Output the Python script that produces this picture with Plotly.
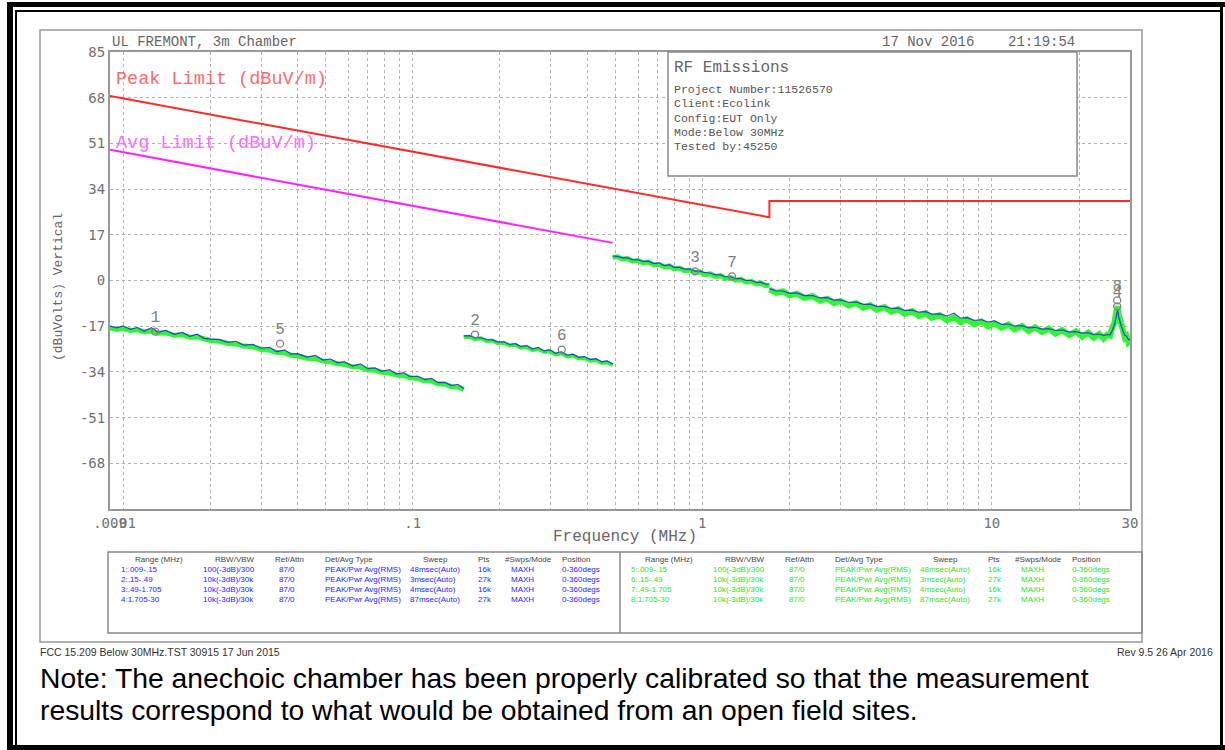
import math
import plotly.graph_objects as go

# ---------------- data ----------------
seg1_f = [0.009, 0.0095, 0.01, 0.0106, 0.0112, 0.0118, 0.0125, 0.0132, 0.014, 0.015,
          0.016, 0.017, 0.018, 0.019, 0.02, 0.0215, 0.023, 0.0245, 0.026, 0.028,
          0.03, 0.032, 0.034, 0.036, 0.038, 0.04, 0.043, 0.046, 0.049, 0.052,
          0.055, 0.058, 0.062, 0.066, 0.07, 0.074, 0.078, 0.083, 0.088, 0.093,
          0.098, 0.104, 0.11, 0.116, 0.122, 0.129, 0.136, 0.143, 0.15]
seg1_avg = [-17.6, -18.2, -17.9, -18.6, -18.3, -19.1, -18.8, -19.6, -19.4, -20.4,
            -20.2, -21.1, -21.0, -21.9, -22.3, -22.6, -23.4, -23.6, -24.4, -24.6,
            -25.7, -25.9, -26.8, -26.9, -27.8, -28.0, -28.9, -29.1, -30.0, -30.2,
            -31.0, -31.2, -32.1, -32.2, -33.2, -33.4, -34.1, -34.4, -35.2, -35.3,
            -36.2, -36.5, -37.3, -37.4, -38.4, -38.6, -39.5, -39.6, -40.5]
seg1_pk = [-17.0, -17.6, -16.9, -18.2, -17.5, -18.9, -17.6, -19.3, -18.6, -20.0,
           -19.3, -20.8, -20.0, -21.5, -21.8, -22.0, -23.0, -22.6, -24.0, -23.8,
           -25.2, -24.9, -26.5, -25.8, -27.4, -27.2, -28.5, -27.9, -29.6, -29.2,
           -30.6, -30.2, -31.8, -31.0, -32.8, -32.5, -33.8, -33.2, -34.8, -34.3,
           -35.8, -35.6, -36.9, -36.4, -38.0, -37.9, -39.1, -38.6, -40.3]

seg2_f = [0.15, 0.157, 0.164, 0.172, 0.18, 0.188, 0.197, 0.206, 0.216, 0.226,
          0.236, 0.247, 0.259, 0.271, 0.284, 0.297, 0.311, 0.326, 0.341, 0.357,
          0.374, 0.391, 0.41, 0.429, 0.449, 0.469, 0.49]
seg2_avg = [-21.1, -20.9, -21.8, -21.5, -22.6, -22.3, -23.4, -23.2, -24.2, -23.9,
            -25.0, -24.7, -25.9, -25.5, -26.6, -26.3, -27.5, -27.1, -28.2, -27.9,
            -29.0, -28.8, -29.8, -29.6, -30.7, -30.4, -31.5]
seg2_pk = [-20.6, -20.5, -21.3, -21.3, -22.0, -22.1, -22.9, -22.8, -23.8, -23.5,
           -24.6, -24.2, -25.5, -24.9, -26.2, -25.8, -27.1, -26.6, -27.8, -27.4,
           -28.6, -28.3, -29.4, -29.1, -30.3, -29.9, -31.1]

seg3_f = [0.49, 0.51, 0.53, 0.55, 0.575, 0.6, 0.625, 0.65, 0.68, 0.71,
          0.74, 0.77, 0.8, 0.835, 0.87, 0.905, 0.944, 0.98, 1.02, 1.065,
          1.11, 1.155, 1.2, 1.25, 1.305, 1.36, 1.415, 1.475, 1.535, 1.6,
          1.655, 1.705]
seg3_avg = [8.6, 8.8, 7.9, 8.2, 7.2, 7.5, 6.5, 6.9, 5.8, 6.0,
            5.0, 5.4, 4.3, 4.6, 3.6, 3.9, 2.9, 3.2, 2.2, 2.5,
            1.5, 1.8, 0.8, 1.1, 0.1, 0.4, -0.6, -0.3, -1.3, -1.0,
            -2.0, -1.7]
seg3_pk = [9.1, 9.0, 8.4, 8.4, 7.8, 7.7, 7.0, 7.2, 6.3, 6.5,
           5.5, 5.8, 4.9, 4.9, 4.2, 4.2, 3.5, 3.5, 2.9, 2.8,
           2.1, 2.1, 1.4, 1.4, 0.7, 0.7, 0.0, 0.0, -0.7, -0.7,
           -1.4, -1.4]

seg4_f = [1.705, 1.8, 1.9, 2.0, 2.12, 2.25, 2.4, 2.55, 2.7, 2.85,
          3.0, 3.2, 3.4, 3.6, 3.8, 4.0, 4.25, 4.5, 4.75, 5.0,
          5.3, 5.6, 5.9, 6.2, 6.6, 7.0, 7.4, 7.8, 8.2, 8.7,
          9.2, 9.7, 10.2, 10.8, 11.4, 12.0, 12.7, 13.4, 14.1, 14.9,
          15.7, 16.6, 17.5, 18.5, 19.5, 20.5, 21.5, 22.5, 23.5, 24.3,
          25.0, 25.6, 26.1, 26.5, 26.8, 27.0, 27.2, 27.4, 27.7, 28.0,
          28.4, 28.8, 29.2, 29.6, 30.0]
seg4_avg = [-3.4, -4.6, -4.0, -5.6, -4.9, -6.5, -5.8, -7.5, -6.8, -8.4,
            -7.6, -9.3, -8.4, -10.1, -9.2, -10.9, -9.9, -11.7, -10.7, -12.4,
            -11.4, -13.2, -12.1, -13.9, -12.9, -14.8, -13.7, -15.5, -14.4, -16.3,
            -15.2, -17.1, -15.9, -17.6, -16.4, -18.2, -16.9, -18.8, -17.4, -19.2,
            -17.9, -19.8, -18.4, -20.3, -18.9, -20.9, -19.4, -21.3, -19.9, -21.6,
            -20.2, -20.6, -17.2, -16.0, -12.4, -11.0, -9.6, -12.6, -14.5, -18.2,
            -18.8, -21.3, -20.7, -23.0, -22.4]
seg4_pk = [-3.0, -3.9, -3.9, -4.8, -4.6, -5.6, -5.6, -6.5, -6.4, -7.3,
           -7.2, -8.1, -8.0, -8.9, -8.8, -9.6, -9.6, -10.4, -10.3, -11.1,
           -11.0, -11.8, -11.6, -12.5, -12.4, -13.2, -12.2, -14.0, -13.8, -14.8,
           -14.6, -15.5, -15.0, -16.3, -16.2, -17.0, -16.8, -17.6, -17.4, -18.1,
           -17.9, -18.6, -18.4, -19.2, -19.0, -19.6, -19.4, -20.1, -19.9, -20.5,
           -20.1, -20.2, -18.5, -16.5, -14.0, -12.0, -11.0, -13.5, -15.8, -17.0,
           -19.0, -20.4, -20.8, -21.9, -22.0]

peak_lim_f = [0.009, 1.705, 1.705, 30]
peak_lim_v = [68.6, 23.5, 29.6, 29.6]
avg_lim_f = [0.009, 0.49]
avg_lim_v = [48.6, 14.0]

marker_labels = ["1", "5", "2", "6", "3", "7", "4", "8"]
marker_f = [0.0129, 0.0348, 0.164, 0.327, 0.944, 1.266, 27.1, 27.1]
marker_v = [-19.0, -23.5, -20.1, -25.7, 3.4, 1.5, -9.6, -7.4]

x_tickvals = [0.009, 0.01, 0.1, 1, 10, 30]
x_ticktext = [".009", ".01", ".1", "1", "10", "30"]
x_gridvals = [0.02, 0.03, 0.04, 0.05, 0.06, 0.07, 0.08, 0.09,
              0.2, 0.3, 0.4, 0.5, 0.6, 0.7, 0.8, 0.9,
              2, 3, 4, 5, 6, 7, 8, 9, 20]
y_tickvals = [-68, -51, -34, -17, 0, 17, 34, 51, 68, 85]
y_ticktext = ["-68", "-51", "-34", "-17", "0", "17", "34", "51", "68", "85"]

info_title = "RF Emissions"
info_lines = ["Project Number:11526570", "Client:Ecolink", "Config:EUT Only",
              "Mode:Below 30MHz", "Tested by:45250"]

table_headers = ["Range (MHz)", "RBW/VBW", "Ref/Attn", "Det/Avg Type", "Sweep",
                 "Pts", "#Swps/Mode", "Position"]
table_left = [
    ["1:.009-.15", "100(-3dB)/300", "87/0", "PEAK/Pwr Avg(RMS)", "48msec(Auto)", "16k", "MAXH", "0-360degs"],
    ["2:.15-.49", "10k(-3dB)/30k", "87/0", "PEAK/Pwr Avg(RMS)", "3msec(Auto)", "27k", "MAXH", "0-360degs"],
    ["3:.49-1.705", "10k(-3dB)/30k", "87/0", "PEAK/Pwr Avg(RMS)", "4msec(Auto)", "16k", "MAXH", "0-360degs"],
    ["4:1.705-30", "10k(-3dB)/30k", "87/0", "PEAK/Pwr Avg(RMS)", "87msec(Auto)", "27k", "MAXH", "0-360degs"],
]
table_right = [
    ["5:.009-.15", "100(-3dB)/300", "87/0", "PEAK/Pwr Avg(RMS)", "48msec(Auto)", "16k", "MAXH", "0-360degs"],
    ["6:.15-.49", "10k(-3dB)/30k", "87/0", "PEAK/Pwr Avg(RMS)", "3msec(Auto)", "27k", "MAXH", "0-360degs"],
    ["7:.49-1.705", "10k(-3dB)/30k", "87/0", "PEAK/Pwr Avg(RMS)", "4msec(Auto)", "16k", "MAXH", "0-360degs"],
    ["8:1.705-30", "10k(-3dB)/30k", "87/0", "PEAK/Pwr Avg(RMS)", "87msec(Auto)", "27k", "MAXH", "0-360degs"],
]

# ---------------- layout helpers (page pixel -> paper) ----------------
W, H = 1225, 750
PL, PR, PT, PB = 110, 1130, 52, 509


def px(x):
    return (x - PL) / (PR - PL)


def py(y):
    return (PB - y) / (PB - PT)


MONO = "Liberation Mono"
GREY = "#666666"
BLUE = "#2424ff"
GREEN = "#33f533"

fig = go.Figure()

# limit lines
fig.add_trace(go.Scatter(x=peak_lim_f, y=peak_lim_v, mode="lines",
                         line=dict(color="#ff2a2a", width=2)))
fig.add_trace(go.Scatter(x=avg_lim_f, y=avg_lim_v, mode="lines",
                         line=dict(color="#ff22ff", width=2)))

segs = [(seg1_f, seg1_pk, seg1_avg, 5), (seg2_f, seg2_pk, seg2_avg, 4),
        (seg3_f, seg3_pk, seg3_avg, 5), (seg4_f, seg4_pk, seg4_avg, 6)]
for f, pk, av, w in segs:
    fig.add_trace(go.Scatter(x=f, y=av, mode="lines", line=dict(color=GREEN, width=w)))
for f, pk, av, w in segs:
    fig.add_trace(go.Scatter(x=f, y=pk, mode="lines", opacity=0.85,
                             line=dict(color=BLUE, width=1.2)))

fig.add_trace(go.Scatter(
    x=marker_f, y=marker_v, mode="markers+text", text=marker_labels,
    textposition="top center",
    textfont=dict(family=MONO, size=16, color="#808080"),
    marker=dict(symbol="circle-open", size=7, color="#808080", line=dict(width=1.3))))

ann = []


def add_text(text, x, y, size, color=GREY, xanchor="left", family=MONO, angle=0):
    ann.append(dict(text=text, x=px(x), y=py(y), xref="paper", yref="paper",
                    xanchor=xanchor, yanchor="middle", showarrow=False,
                    textangle=angle, font=dict(family=family, size=size, color=color)))


add_text("UL FREMONT, 3m Chamber", 110, 42, 14)
add_text("17 Nov 2016    21:19:54", 1077, 42, 14, xanchor="right")
add_text("Peak Limit (dBuV/m)", 114, 80, 18.5, color="#ff6a6a")
add_text("Avg Limit (dBuV/m)", 114, 143, 18.5, color="#ff6aff")
add_text(info_title, 672, 68, 16)
for i, line in enumerate(info_lines):
    add_text(line, 672, 90 + 14 * i, 11.5, color="#555555")
add_text("(dBuVolts) Vertical", 58, 287, 13, xanchor="center", angle=-90)
add_text("Frequency (MHz)", 625, 537, 16, xanchor="center")

# table
SANS = "Liberation Sans"
head_x = [133, 213, 273, 323, 421, 476, 503, 560]
row_x = [119, 201, 277, 323, 408, 476, 509, 560]
for half, rows, col in ((0, table_left, BLUE), (510, table_right, "#33dd33")):
    for j, h in enumerate(table_headers):
        add_text(h, head_x[j] + half, 559, 8, color="#444444", family=SANS)
    for i, r in enumerate(rows):
        for j, cell in enumerate(r):
            add_text(cell, row_x[j] + half, 569 + 10 * i, 8, color=col, family=SANS)

add_text("FCC 15.209 Below 30MHz.TST 30915 17 Jun 2015", 38, 652, 10.5, color="#333333", family=SANS)
add_text("Rev 9.5 26 Apr 2016", 1215, 652, 10.5, color="#333333", family=SANS, xanchor="right")
add_text("Note: The anechoic chamber has been properly calibrated so that the measurement",
         38, 678, 28.3, color="#000000", family=SANS)
add_text("results correspond to what would be obtained from an open field sites.",
         38, 710, 28.3, color="#000000", family=SANS)

shapes = []


def rect(x0, y0, x1, y1, color, width, fill=None, layer="above"):
    shapes.append(dict(type="rect", xref="paper", yref="paper",
                       x0=px(x0), x1=px(x1), y0=py(y0), y1=py(y1),
                       line=dict(color=color, width=width),
                       fillcolor=fill if fill else "rgba(0,0,0,0)", layer=layer))


def line(x0, y0, x1, y1, color, width):
    shapes.append(dict(type="line", xref="paper", yref="paper",
                       x0=px(x0), x1=px(x1), y0=py(y0), y1=py(y1),
                       line=dict(color=color, width=width), layer="above"))


# page borders
line(10, 2, 10, 750, "#000000", 6)
line(7, 4.5, 1225, 4.5, "#000000", 5)
line(7, 747.5, 1225, 747.5, "#000000", 5)
line(1221.5, 2, 1221.5, 750, "#000000", 3)
line(16, 11, 1221, 11, "#000000", 2)
line(16, 10, 16, 745, "#000000", 2)
# grey frame
rect(40, 30, 1142, 642, "#999999", 1.5)
# info box
rect(668, 52, 1077, 176, "#888888", 1.5, fill="#ffffff")
# table box
rect(108, 552, 1142, 633, "#888888", 1.5)
line(620, 552, 620, 633, "#888888", 1.5)

tickfont = dict(family="DejaVu Sans Mono", size=14, color="#707070")
fig.update_layout(
    width=W, height=H, autosize=False,
    margin=dict(l=PL, r=W - PR, t=PT, b=H - PB, pad=0),
    paper_bgcolor="#ffffff", plot_bgcolor="#ffffff",
    showlegend=False,
    annotations=ann, shapes=shapes,
    xaxis=dict(type="log", range=[math.log10(0.009), math.log10(30)],
               tickmode="array", tickvals=x_tickvals, ticktext=x_ticktext,
               tickangle=0, tickfont=tickfont, ticks="",
               showgrid=True, gridcolor="#b0b0b0", griddash="dot", gridwidth=1,
               minor=dict(tickvals=x_gridvals, showgrid=True, gridcolor="#b0b0b0",
                          griddash="dot", gridwidth=1, ticks=""),
               showline=True, linecolor="#999999", linewidth=2, mirror=True,
               zeroline=False),
    yaxis=dict(range=[-85, 85], tickmode="array", tickvals=y_tickvals,
               ticktext=y_ticktext, tickfont=tickfont, ticks="",
               showgrid=True, gridcolor="#b0b0b0", griddash="dot", gridwidth=1,
               showline=True, linecolor="#999999", linewidth=2, mirror=True,
               zeroline=False),
)

fig.write_html("out.html", config={"displayModeBar": False},
               post_script="document.body.style.margin='0';document.body.style.overflow='hidden';")
